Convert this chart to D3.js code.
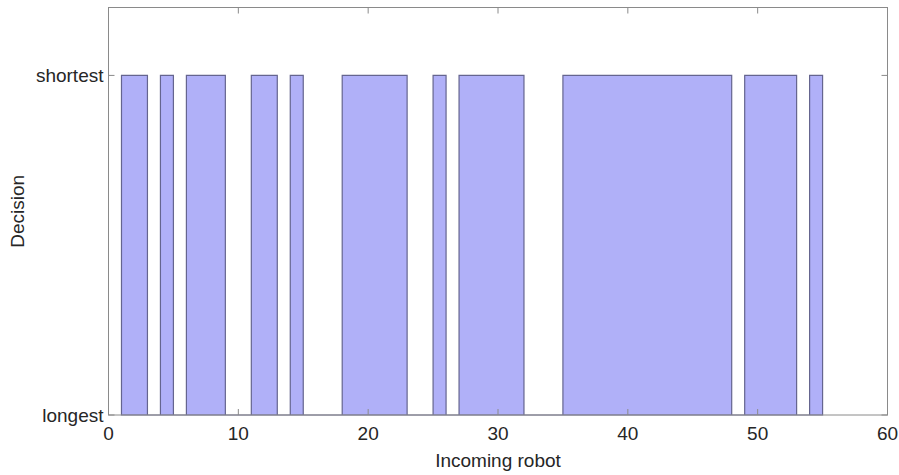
<!DOCTYPE html>
<html>
<head>
<meta charset="utf-8">
<script src="https://cdn.jsdelivr.net/npm/d3@7"></script>
<style>
  body { margin: 0; background: #fff; }
  svg { display: block; font-family: "Liberation Sans", Arial, Helvetica, sans-serif; }
</style>
</head>
<body>
<div id="chart"></div>
<script>
// decision made for each incoming robot: 1 = shortest, 0 = longest
const robots = [1, 2, 3, 4, 5, 6, 7, 8, 9, 10, 11, 12, 13, 14, 15, 16, 17, 18, 19, 20,
  21, 22, 23, 24, 25, 26, 27, 28, 29, 30, 31, 32, 33, 34, 35, 36, 37, 38, 39, 40,
  41, 42, 43, 44, 45, 46, 47, 48, 49, 50, 51, 52, 53, 54, 55];
const decisions = [1, 1, 0, 1, 0, 1, 1, 1, 0, 0, 1, 1, 0, 1, 0, 0, 0, 1, 1, 1,
  1, 1, 0, 0, 1, 0, 1, 1, 1, 1, 1, 0, 0, 0, 1, 1, 1, 1, 1, 1,
  1, 1, 1, 1, 1, 1, 1, 0, 1, 1, 1, 1, 0, 1, 0];
const xTicks = [0, 10, 20, 30, 40, 50, 60];
const yTicks = [0, 1];
const yTickLabels = ['longest', 'shortest'];

const width = 899, height = 475;
const margin = {top: 7.5, right: 11.5, bottom: 60, left: 108.5};
const innerW = width - margin.left - margin.right;
const innerH = height - margin.top - margin.bottom;
const axisColor = '#8a8a8a';
const textColor = '#262626';

const svg = d3.select('#chart').append('svg')
  .attr('width', width)
  .attr('height', height);

const g = svg.append('g')
  .attr('transform', `translate(${margin.left},${margin.top})`);

const x = d3.scaleLinear().domain([0, 60]).range([0, innerW]);
const y = d3.scaleLinear().domain([0, 1.2]).range([innerH, 0]);

const points = robots.map((r, i) => ({r: r, d: decisions[i]}));

const area = d3.area()
  .curve(d3.curveStepAfter)
  .x(d => x(d.r))
  .y0(y(0))
  .y1(d => y(d.d));

g.append('path')
  .datum(points)
  .attr('d', area)
  .attr('fill', '#b0b0f8')
  .attr('stroke', '#65658f')
  .attr('stroke-width', 1.2);

// box
g.append('rect')
  .attr('width', innerW)
  .attr('height', innerH)
  .attr('fill', 'none')
  .attr('stroke', axisColor)
  .attr('stroke-width', 1);

const tickLen = 6;

// x ticks (bottom and top, inward)
xTicks.forEach(t => {
  g.append('line')
    .attr('x1', x(t)).attr('x2', x(t))
    .attr('y1', innerH).attr('y2', innerH - tickLen)
    .attr('stroke', axisColor);
  g.append('line')
    .attr('x1', x(t)).attr('x2', x(t))
    .attr('y1', 0).attr('y2', tickLen)
    .attr('stroke', axisColor);
  g.append('text')
    .attr('x', x(t))
    .attr('y', innerH + 25)
    .attr('text-anchor', 'middle')
    .attr('font-size', 19)
    .attr('fill', textColor)
    .text(t);
});

// y ticks (left and right, inward)
yTicks.forEach((t, i) => {
  g.append('line')
    .attr('x1', 0).attr('x2', tickLen)
    .attr('y1', y(t)).attr('y2', y(t))
    .attr('stroke', axisColor);
  g.append('line')
    .attr('x1', innerW).attr('x2', innerW - tickLen)
    .attr('y1', y(t)).attr('y2', y(t))
    .attr('stroke', axisColor);
  g.append('text')
    .attr('x', -5)
    .attr('y', y(t))
    .attr('dy', '0.35em')
    .attr('text-anchor', 'end')
    .attr('font-size', 19)
    .attr('fill', textColor)
    .text(yTickLabels[i]);
});

// axis labels
svg.append('text')
  .attr('x', margin.left + innerW / 2)
  .attr('y', 467)
  .attr('text-anchor', 'middle')
  .attr('font-size', 19)
  .attr('fill', textColor)
  .text('Incoming robot');

svg.append('text')
  .attr('transform', `translate(24,${margin.top + innerH / 2}) rotate(-90)`)
  .attr('text-anchor', 'middle')
  .attr('font-size', 19)
  .attr('fill', textColor)
  .text('Decision');
</script>
</body>
</html>
